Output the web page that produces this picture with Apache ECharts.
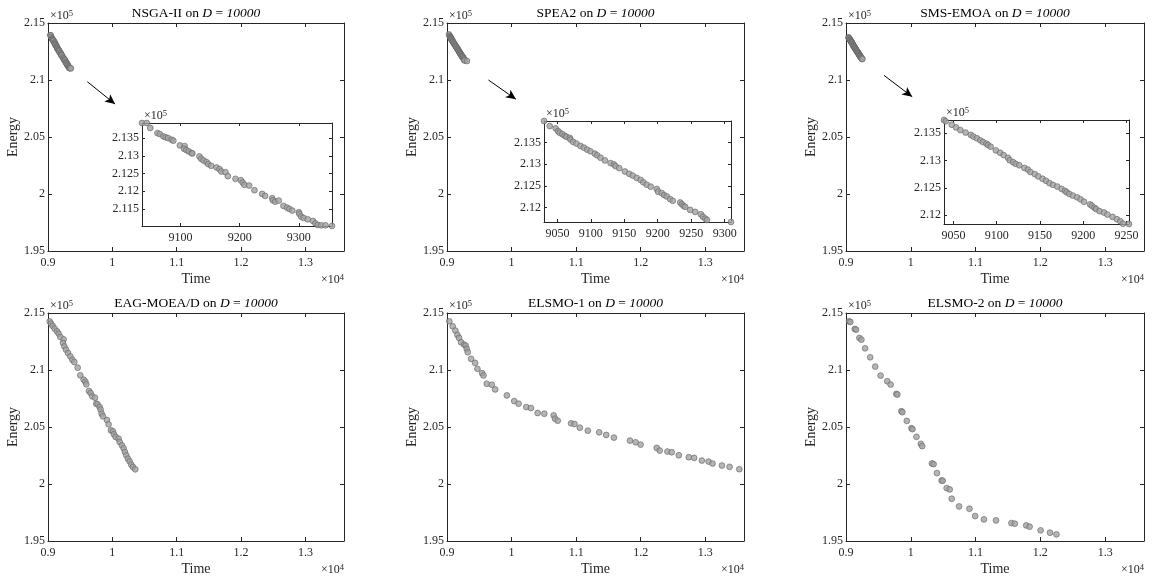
<!DOCTYPE html>
<html><head><meta charset="utf-8">
<script src="https://cdn.jsdelivr.net/npm/echarts@6/dist/echarts.min.js"></script>
<style>html,body{margin:0;padding:0;background:#fff}#c{width:1153px;height:580px}</style>
</head><body><div id="c"></div>
<script>
// ---------- data ----------
const TITLES = ['NSGA-II', 'SPEA2', 'SMS-EMOA', 'EAG-MOEA/D', 'ELSMO-1', 'ELSMO-2'];
const DIM_LABEL = '10000';
const MAIN_X_RANGE = [9000, 13600];
const MAIN_Y_RANGE = [195000, 215000];
const MAIN_X_TICKS = [9000, 10000, 11000, 12000, 13000];
const MAIN_Y_TICKS = [195000, 200000, 205000, 210000, 215000];

const NSGA_TIME = [9035,9043,9049,9061,9065,9071,9075,9079,9085,9088,9099,9107,9106,9110,9114,9119,9120,9132,9135,9139,9144,9147,9152,9161,9166,9169,9176,9180,9193,9202,9205,9208,9216,9225,9238,9243,9255,9256,9260,9266,9274,9280,9284,9289,9300,9301,9304,9308,9315,9324,9328,9332,9338,9345,9356];
const NSGA_ENERGY = [213924,213924,213783,213641,213613,213547,213519,213500,213453,213425,213293,213274,213198,213161,213123,213076,213066,212981,212915,212868,212821,212764,212717,212670,212623,212557,212538,212425,212350,212312,212246,212180,212161,212029,211925,211869,211803,211746,211708,211737,211586,211539,211501,211454,211407,211360,211284,211247,211209,211162,211096,211049,211039,211039,211020];

const SPEA_TIME = [9030,9038.5,9047.5,9051,9053.5,9057.5,9061,9063.5,9068.5,9069.5,9073.5,9078.5,9084.5,9089.5,9094.5,9099.5,9106,9109.5,9114.5,9121,9129.5,9134.5,9137,9142.5,9151,9157.5,9162.5,9168.5,9174.5,9178.5,9183.5,9189.5,9198.5,9200.5,9206,9209.5,9213.5,9218.5,9222.5,9233.5,9236,9238.5,9241,9248.5,9256,9264.5,9267.5,9271,9273.5,9309.5];
const SPEA_ENERGY = [213998,213881,213827,213764,213725,213694,213656,213632,213609,213570,213516,213477,213422,213383,213337,213298,213243,213205,213150,213088,213026,212995,212956,212909,212831,212777,212738,212684,212637,212582,212528,212481,212427,212365,212334,212287,212256,212194,212155,212116,212077,212038,212015,211945,211898,211844,211789,211743,211712,211665];

const SMS_TIME = [9039,9041,9048,9053,9058,9064,9070,9073,9077,9081,9084,9088,9090,9093,9099,9104,9108,9113,9115,9119,9122,9126,9132,9136,9139,9144,9148,9153,9157,9161,9165,9170,9175,9179,9181,9184,9188,9193,9197,9201,9208,9210,9213,9215,9219,9224,9228,9234,9239,9243,9246,9253];
const SMS_ENERGY = [213741,213716,213654,213605,213556,213512,213469,213438,213407,213370,213340,213309,213284,213253,213185,213142,213099,213050,213006,212969,212939,212914,212865,212834,212790,212753,212710,212667,212630,212587,212556,212525,212482,212445,212420,212389,212359,212328,212291,212247,212198,212173,212136,212112,212075,212050,212013,211970,211927,211890,211846,211840];

const EAG_TIME = [9026,9047,9073,9104,9140,9166,9192,9243,9233,9254,9280,9311,9347,9378,9409,9461,9502,9554,9580,9595,9637,9662,9688,9730,9750,9771,9802,9818,9833,9854,9916,9942,9978,10009,10025,10051,10097,10113,10149,10175,10195,10216,10242,10268,10294,10320,10356];
const EAG_ENERGY = [214269,214064,213860,213626,213392,213187,212895,212690,212368,212076,211784,211491,211199,210906,210702,210205,209532,209152,208977,208743,208158,207982,207690,207573,207047,206988,206754,206520,206169,205936,205614,205234,204708,204620,204357,204123,203977,203684,203392,203129,202807,202515,202222,201988,201696,201491,201287];

const ELSMO1_TIME = [9036,9088,9130,9161,9187,9218,9264,9290,9306,9321,9373,9435,9471,9544,9565,9616,9694,9746,9927,10041,10109,10228,10300,10404,10507,10652,10673,10715,10922,10974,11057,11181,11357,11466,11585,11834,11922,11999,12248,12295,12414,12481,12590,12745,12828,12947,13051,13113,13258,13377,13527];
const ELSMO1_ENERGY = [214271,213834,213455,213076,212814,212435,212231,212143,211852,211560,210977,210628,210103,209724,209520,208791,208704,208296,207771,207275,207042,206750,206663,206226,206167,206021,205730,205555,205322,205264,204943,204681,204535,204302,204069,203806,203660,203457,203165,202932,202844,202786,202524,202349,202290,202057,201969,201795,201620,201503,201299];

const ELSMO2_TIME = [9047,9067,9135,9155,9207,9238,9295,9373,9451,9534,9637,9689,9777,9793,9855,9870,9938,10010,10026,10088,10155,10176,10326,10352,10404,10476,10492,10554,10601,10632,10746,10906,10994,11129,11316,11554,11606,11782,11834,12004,12149,12248];
const ELSMO2_ENERGY = [214270,214212,213598,213540,212810,212664,211905,211116,210299,209510,209014,208722,207904,207846,206386,206298,205539,204897,204809,204138,203524,203320,201802,201743,200955,200312,200283,199641,199524,198706,198035,197830,197188,196896,196808,196575,196516,196370,196254,195933,195728,195582];

const INSET1_X_TICKS = [9100, 9200, 9300];
const INSET1_Y_TICKS = [211500, 212000, 212500, 213000, 213500];
const INSET2_X_TICKS = [9050, 9100, 9150, 9200, 9250, 9300];
const INSET2_Y_TICKS = [212000, 212500, 213000, 213500];
const INSET3_X_TICKS = [9050, 9100, 9150, 9200, 9250];
const INSET3_Y_TICKS = [212000, 212500, 213000, 213500];

// zoom arrows (data coordinates of the main axes): [from, to]
const ARROW1 = [[9611, 209850], [10042, 207890]];
const ARROW2 = [[9642, 210000], [10068, 208310]];
const ARROW3 = [[9586, 210410], [10022, 208530]];

// ---------- layout & style ----------
const FONT = "'Liberation Serif','Times New Roman',serif";
const AX = '#262626';
const TICK_FS = 12;
const MAIN_BOXES = [
  [48, 23, 296, 228], [447, 23, 297, 228], [846, 23, 298, 228],
  [48, 313, 296, 228], [447, 313, 297, 228], [846, 313, 298, 228]
];
const INSET_BOXES = [[142, 123, 190, 103], [544, 121, 187, 101], [944, 120, 185, 104]];

function zip(a, b) { return a.map((v, i) => [v, b[i]]); }
function fmt(v, div) { return String(parseFloat((v / div).toFixed(4))); }

const grids = [], xAxes = [], yAxes = [], series = [], graphics = [];
const lblStyle = { fontFamily: FONT, fontSize: TICK_FS, color: AX };
const expRich = {
  a: { fontFamily: FONT, fontSize: 12, color: AX, lineHeight: 14 },
  b: { fontFamily: FONT, fontSize: 8.5, color: AX, verticalAlign: 'top', lineHeight: 14 }
};

function addPanel(box, o) {
  const g = grids.length;
  grids.push({ left: box[0], top: box[1], width: box[2], height: box[3], show: !!o.bg,
    backgroundColor: '#fff', borderWidth: 0 });
  const line = { show: true, onZero: false, lineStyle: { color: AX, width: 1 } };
  const tick = (vals) => ({ show: true, inside: true, length: o.tickLen, customValues: vals, lineStyle: { color: AX, width: 1 } });
  xAxes.push({ type: 'value', gridIndex: g, position: 'bottom', min: o.xr[0], max: o.xr[1],
    splitLine: { show: false }, axisLine: line, axisTick: tick(o.xt),
    axisLabel: Object.assign({ customValues: o.xt, margin: 6, formatter: v => fmt(v, o.xdiv) }, lblStyle),
    name: o.main ? 'Time' : '', nameLocation: 'middle', nameGap: 21,
    nameTextStyle: { fontFamily: FONT, fontSize: 14, color: AX } });
  xAxes.push({ type: 'value', gridIndex: g, position: 'top', min: o.xr[0], max: o.xr[1],
    splitLine: { show: false }, axisLine: line, axisTick: tick(o.xt), axisLabel: { show: false },
    name: '{a|×10}{b|5}', nameLocation: 'start', nameGap: -2,
    nameTextStyle: { align: 'left', verticalAlign: 'bottom', rich: expRich } });
  yAxes.push({ type: 'value', gridIndex: g, position: 'left', min: o.yr[0], max: o.yr[1],
    splitLine: { show: false }, axisLine: line, axisTick: tick(o.yt),
    axisLabel: Object.assign({ customValues: o.yt, margin: 3, formatter: v => fmt(v, 1e5) }, lblStyle),
    name: o.main ? 'Energy' : '', nameLocation: 'middle', nameGap: 27,
    nameTextStyle: { fontFamily: FONT, fontSize: 14, color: AX } });
  yAxes.push({ type: 'value', gridIndex: g, position: 'right', min: o.yr[0], max: o.yr[1],
    splitLine: { show: false }, axisLine: line, axisTick: tick(o.yt), axisLabel: { show: false },
    name: o.main ? '{a|×10}{b|4}' : '', nameLocation: 'start', nameGap: 22,
    nameTextStyle: { align: 'right', verticalAlign: 'top', rich: expRich } });
  const s = {
    type: 'scatter', xAxisIndex: 2 * g, yAxisIndex: 2 * g, data: o.data, symbol: 'circle', symbolSize: 5.8,
    itemStyle: { color: '#a2a2a2', borderColor: '#636363', borderWidth: 0.8 }, z: 3
  };
  if (o.arrow) {
    s.markLine = { silent: true, symbol: ['none', 'arrow'], symbolSize: [7, 10], animation: false,
      label: { show: false }, lineStyle: { color: '#000', width: 1, type: 'solid' },
      emphasis: { disabled: true },
      data: [[{ coord: o.arrow[0] }, { coord: o.arrow[1] }]] };
  }
  series.push(s);
}

const MAIN_DATA = [
  zip(NSGA_TIME, NSGA_ENERGY), zip(SPEA_TIME, SPEA_ENERGY), zip(SMS_TIME, SMS_ENERGY),
  zip(EAG_TIME, EAG_ENERGY), zip(ELSMO1_TIME, ELSMO1_ENERGY), zip(ELSMO2_TIME, ELSMO2_ENERGY)
];
const ARROWS = [ARROW1, ARROW2, ARROW3];
MAIN_DATA.forEach((d, i) => {
  addPanel(MAIN_BOXES[i], { main: true, xr: MAIN_X_RANGE, yr: MAIN_Y_RANGE, xt: MAIN_X_TICKS, yt: MAIN_Y_TICKS,
    xdiv: 1e4, tickLen: 4, data: d, arrow: ARROWS[i] });
  const b = MAIN_BOXES[i];
  graphics.push({ type: 'text', x: b[0] + b[2] / 2, y: b[1] - 10, silent: true,
    style: { text: TITLES[i] + ' on {i|D} = {i|' + DIM_LABEL + '}', fontFamily: FONT, fontSize: 13.5,
      fill: '#000', align: 'center', verticalAlign: 'middle',
      rich: { i: { fontFamily: FONT, fontSize: 13.5, fontStyle: 'italic', fill: '#000' } } } });
});

const INSET_SRC = [[NSGA_TIME, NSGA_ENERGY, INSET1_X_TICKS, INSET1_Y_TICKS],
                   [SPEA_TIME, SPEA_ENERGY, INSET2_X_TICKS, INSET2_Y_TICKS],
                   [SMS_TIME, SMS_ENERGY, INSET3_X_TICKS, INSET3_Y_TICKS]];
INSET_SRC.forEach((src, i) => {
  const xr = [Math.min(...src[0]), Math.max(...src[0])];
  const yr = [Math.min(...src[1]), Math.max(...src[1])];
  addPanel(INSET_BOXES[i], { main: false, bg: true, xr, yr, xt: src[2], yt: src[3], xdiv: 1,
    tickLen: 3, data: zip(src[0], src[1]) });
});

const chart = echarts.init(document.getElementById('c'), null, { renderer: 'canvas' });
chart.setOption({
  animation: false, backgroundColor: '#fff',
  grid: grids, xAxis: xAxes, yAxis: yAxes, series, graphic: graphics
});
</script></body></html>
